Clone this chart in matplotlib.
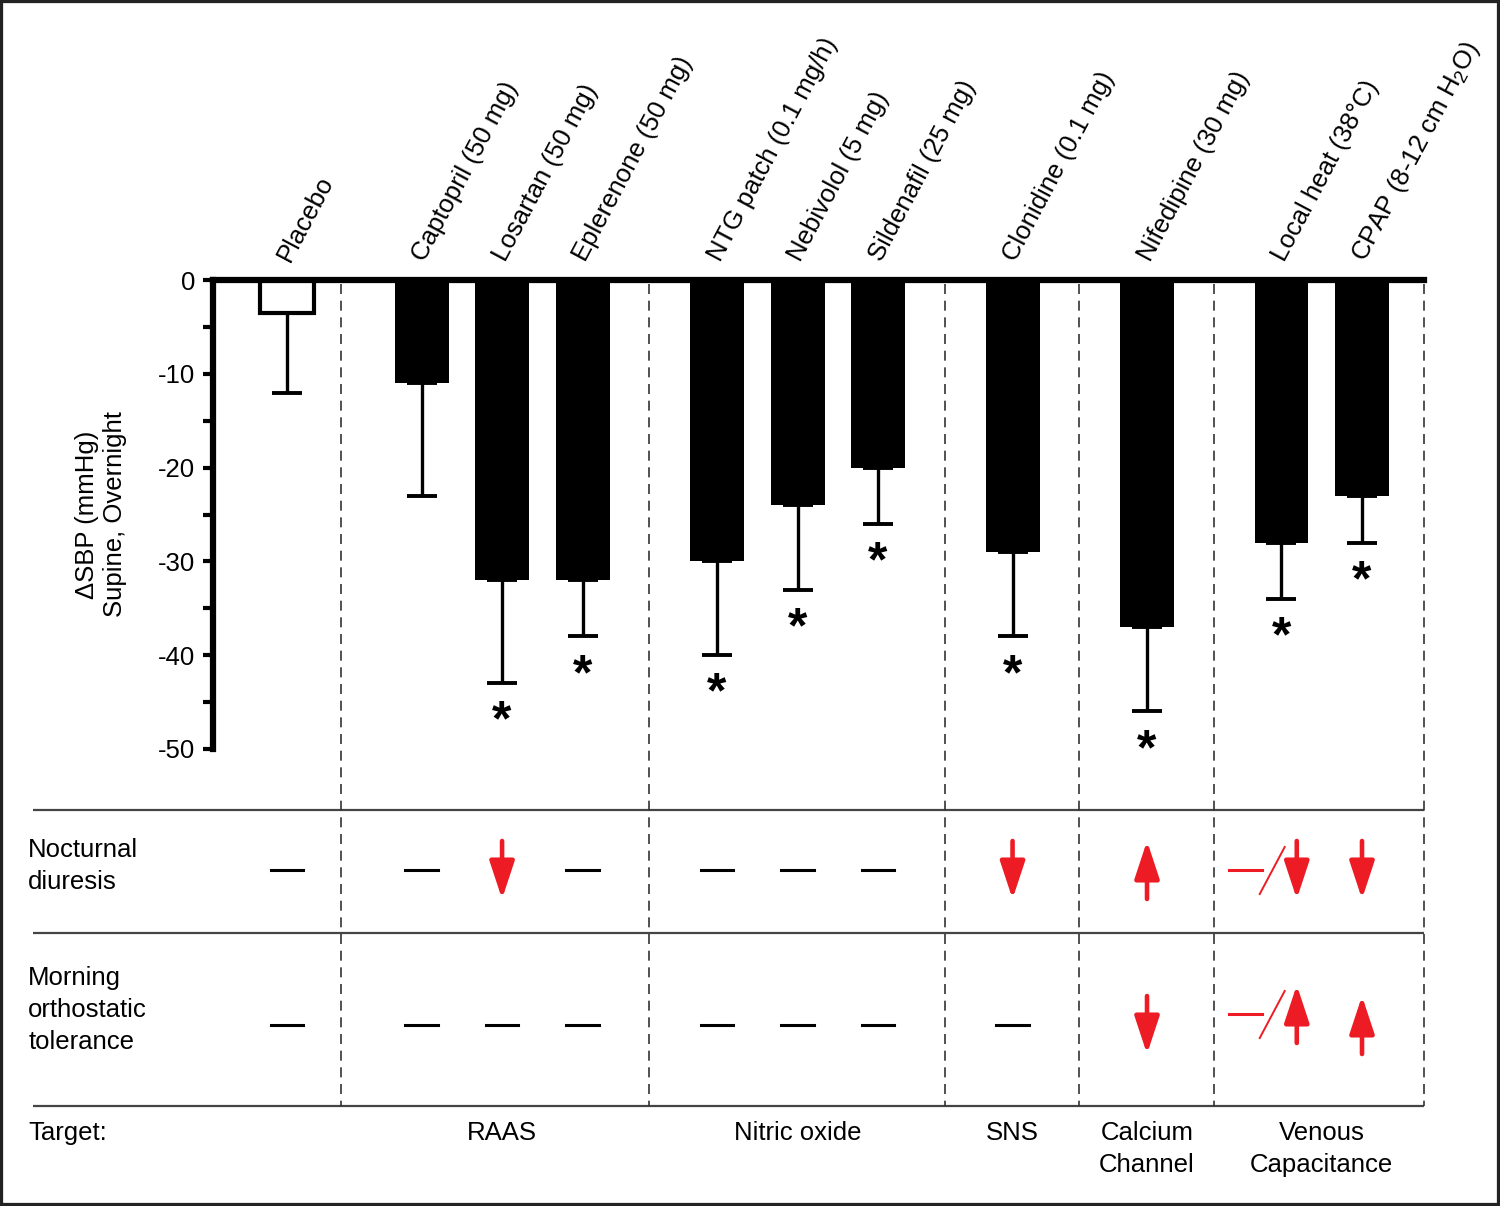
import matplotlib
matplotlib.use('Agg')
import matplotlib.pyplot as plt
import numpy as np
from matplotlib.patches import Rectangle, FancyArrowPatch

plt.rcParams['font.family'] = ['Liberation Sans', 'DejaVu Sans']
plt.rcParams['mathtext.fontset'] = 'custom'
plt.rcParams['mathtext.rm'] = 'Liberation Sans'
plt.rcParams['axes.unicode_minus'] = False

# данные
treatments = ['Placebo', 'Captopril (50 mg)', 'Losartan (50 mg)', 'Eplerenone (50 mg)',
              'NTG patch (0.1 mg/h)', 'Nebivolol (5 mg)', 'Sildenafil (25 mg)',
              'Clonidine (0.1 mg)', 'Nifedipine (30 mg)', 'Local heat (38°C)',
              r'CPAP (8-12 cm H$_\mathregular{2}$O)']
groups = [0, 1, 1, 1, 2, 2, 2, 3, 4, 5, 5]
targets = ['', 'RAAS', 'Nitric oxide', 'SNS', 'Calcium\nChannel', 'Venous\nCapacitance']
delta_sbp = [-3.5, -11, -32, -32, -30, -24, -20, -29, -37, -28, -23]
sbp_err = [8.5, 12, 11, 6, 10, 9, 6, 9, 9, 6, 5]
significant = [False, False, True, True, True, True, True, True, True, True, True]
diuresis = ['none', 'none', 'down', 'none', 'none', 'none', 'none', 'down', 'up', 'none/down', 'down']
orthostatic = ['none', 'none', 'none', 'none', 'none', 'none', 'none', 'none', 'down', 'none/up', 'up']
row_labels = ['Nocturnal\ndiuresis', 'Morning\northostatic\ntolerance']

RED = '#ED1C24'
FS = 18.5

n = len(treatments)
x = np.arange(n) + np.array(groups) * 0.67

# границы групп
seps = []
for g in range(1, len(targets)):
    last = x[np.array(groups) == g - 1].max()
    seps.append(last + (0.67 if g == 1 else 0.83))
seps.append(x[-1] + 0.77)

xl, xr = -0.92, seps[-1]

fig = plt.figure(figsize=(15, 12.06), dpi=100)

# нижняя таблица
ax2 = fig.add_axes([33 / 1500, 0, (1424 - 33) / 1500, 457 / 1206])
scale = (1424 - 213) / (xr - xl)
ax2.set_xlim(xr - (1424 - 33) / scale, xr)
ax2.set_ylim(1206, 749)
ax2.axis('off')
x2l = ax2.get_xlim()[0]

ax2.hlines([810, 933, 1106], x2l, xr, color='#444444', lw=1.6)
for s in seps:
    ax2.plot([s, s], [284, 1106], color='#333333', lw=1.2, ls=(0, (6, 4)), clip_on=False)

ax2.text(x2l - 0.06, 866, row_labels[0], fontsize=FS, ha='left', va='center', linespacing=1.42)
ax2.text(x2l - 0.06, 1010, row_labels[1], fontsize=FS, ha='left', va='center', linespacing=1.42)
ax2.text(x2l - 0.06, 1133, 'Target:', fontsize=FS, ha='left', va='center')

for g in range(1, len(targets)):
    cx = x[np.array(groups) == g].mean()
    ax2.text(cx, 1121, targets[g], fontsize=FS, ha='center', va='top', linespacing=1.42)


def arrow(xc, yc, direction):
    if direction == 'down':
        tail, tip = yc - 29, yc + 29
    else:
        tail, tip = yc + 29, yc - 29
    ax2.add_patch(FancyArrowPatch((xc, tail), (xc, tip), arrowstyle='-|>,head_length=1.15,head_width=0.38',
                                  mutation_scale=20, lw=3.3, color=RED, shrinkA=0, shrinkB=0))


def draw_effect(xc, yc, effect):
    if effect == 'none':
        ax2.plot([xc - 0.2, xc + 0.2], [yc, yc], color='black', lw=2.2)
    elif effect in ('down', 'up'):
        arrow(xc, yc, effect)
    else:
        ax2.plot([xc - 0.65, xc - 0.24], [yc, yc], color=RED, lw=2.2)
        ax2.plot([xc - 0.27, xc + 0.04], [yc + 24, yc - 23], color=RED, lw=1.4)
        arrow(xc + 0.19, yc, effect.split('/')[1])


for xi, e in zip(x, diuresis):
    draw_effect(xi, 870, e)
for xi, e in zip(x, orthostatic):
    draw_effect(xi, 1025 if e != 'none/up' else 1014, e)

# основной график
ax = fig.add_axes([213 / 1500, (1206 - 749) / 1206, (1424 - 213) / 1500, (749 - 280) / 1206])
colors = ['white' if t == 'Placebo' else 'black' for t in treatments]
ax.bar(x, delta_sbp, width=0.67, color=colors, edgecolor='black',
       linewidth=[3 if t == 'Placebo' else 0 for t in treatments], zorder=2)
ax.errorbar(x, delta_sbp, yerr=[sbp_err, np.zeros(n)], fmt='none', ecolor='black',
            elinewidth=2.4, capsize=11, capthick=2.8, zorder=3)

for xi, v, e, s in zip(x, delta_sbp, sbp_err, significant):
    if s:
        ax.text(xi, v - e - 4.2, '*', fontsize=36, fontweight='bold', ha='center', va='center')

for xi, t in zip(x, treatments):
    ax.text(xi + 0.04, 1.8, t, fontsize=FS, rotation=62, rotation_mode='anchor',
            ha='left', va='baseline', clip_on=False)

ax.set_xlim(xl, xr)
ax.set_ylim(-50, 0)
ax.set_xticks([])
ax.set_yticks(range(-50, 1, 10))
ax.set_yticks(range(-45, 0, 10), minor=True)
ax.tick_params(axis='y', which='both', direction='out', length=7, width=3, labelsize=FS, pad=6)
for side in ('right', 'bottom'):
    ax.spines[side].set_visible(False)
ax.spines['left'].set_linewidth(4.5)
ax.spines['top'].set_linewidth(4.5)
ax.patch.set_visible(False)
ax.set_ylabel('ΔSBP (mmHg)\nSupine, Overnight', fontsize=FS, linespacing=1.2)
ax.yaxis.set_label_coords(-0.071, 0.5)

fig.patches.append(Rectangle((0, 0), 1, 1, transform=fig.transFigure, fill=False, lw=4.5, ec='#222222'))

fig.savefig('out.png', dpi=100, facecolor='white')
